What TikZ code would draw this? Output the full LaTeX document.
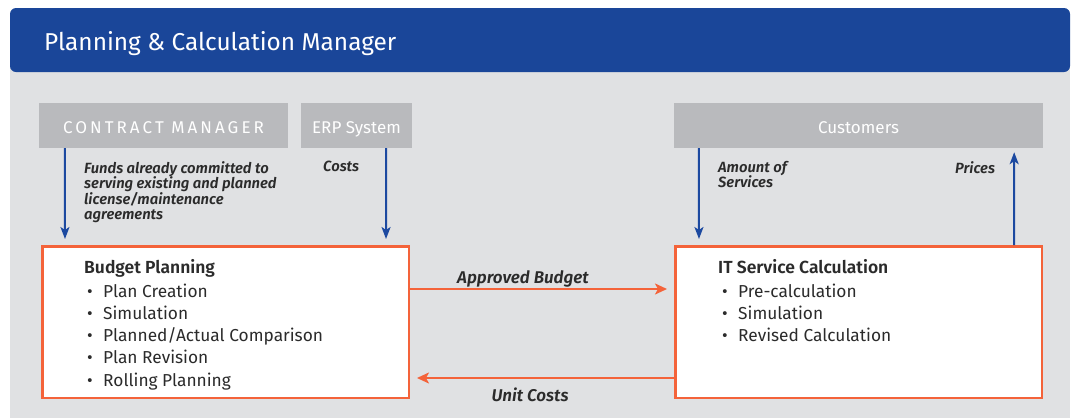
\documentclass[tikz,border=0pt]{standalone}
\usepackage{fontspec}
\setmainfont{Fira Sans}[BoldFont={Fira Sans SemiBold}, BoldItalicFont={Fira Sans SemiBold Italic}]
\usetikzlibrary{arrows.meta,calc}
\definecolor{hblue}{HTML}{1A4699}
\definecolor{ablue}{HTML}{1C49A0}
\definecolor{bggrey}{HTML}{E0E1E3}
\definecolor{boxgrey}{HTML}{B9BABD}
\definecolor{orng}{HTML}{F4633A}
\definecolor{txt}{HTML}{2B2B2B}
\tikzset{
  gbox/.style={fill=boxgrey, inner sep=0pt, minimum height=45pt, text height=15pt, text depth=0pt, text=white, font=\fontsize{17}{20}\selectfont},
  obox/.style={draw=orng, line width=2.5pt, fill=white, minimum width=366.5pt, minimum height=151.5pt, inner sep=0pt},
  barrow/.style={draw=ablue, line width=2pt, -{Stealth[length=12pt,width=9pt,inset=3pt]}},
  oarrow/.style={draw=orng, line width=2pt, -{Stealth[length=12pt,width=11pt,inset=3pt]}},
  lbl/.style={text=txt, font=\fontsize{14.8}{15.5}\selectfont\bfseries\itshape, align=left, inner sep=0pt},
  alb/.style={text=txt, font=\fontsize{17}{20}\selectfont\bfseries\itshape, inner sep=0pt, anchor=base},
  head/.style={text=txt, font=\fontsize{17.5}{20}\selectfont\bfseries, inner sep=0pt, anchor=base west},
  item/.style={text=txt, font=\fontsize{17.3}{20}\selectfont, inner sep=0pt, anchor=base west},
}
\newcommand{\bul}{\makebox[16pt][l]{\textbullet}}
\begin{document}
\begin{tikzpicture}[x=1pt,y=-1pt]
\useasboundingbox (0,0) rectangle (1071,418);
\fill[bggrey] (10,60) rectangle (1070,418);
\fill[hblue, rounded corners=6pt] (10,8) rectangle (1070,72);
\node[anchor=base west, text=white, inner sep=0pt, font=\fontsize{24.4}{26}\selectfont] (title) at (44,50) {Planning \& Calculation Manager};

\node[gbox, minimum width=249pt, font=\fontsize{17}{20}\selectfont] (cm) at (163.5,125.5) {\addfontfeatures{LetterSpace=18}CONTRACT MANAGER};
\node[gbox, minimum width=111pt] (erp) at (356.5,125.5) {ERP System};
\node[gbox, minimum width=369pt] (cust) at (858.5,125.5) {Customers};

\node[obox] (bp) at (225.5,322) {};
\node[obox] (it) at (858.5,322) {};

\draw[barrow, shorten >=6pt] ([xshift=26pt]cm.south west) -- ([xshift=24pt]bp.north west);
\draw[barrow, shorten >=6pt] ([xshift=-26pt]erp.south east) -- ([xshift=-24pt]bp.north east);
\draw[barrow, shorten >=6pt] ([xshift=25pt]cust.south west) -- ([xshift=25pt]it.north west);
\draw[barrow, shorten >=4pt] ([xshift=-29pt]it.north east) -- ([xshift=-29pt]cust.south east);
\draw[oarrow, shorten >=7pt] ([yshift=33pt]bp.east) -- ([yshift=33pt]it.west);
\draw[oarrow, shorten >=7pt] ([yshift=-56pt]it.west) -- ([yshift=-56pt]bp.east);

\node[lbl, anchor=north west] (funds) at (84,161) {Funds already committed to\\serving existing and planned\\license/maintenance\\agreements};
\node[lbl, anchor=north west] (costs) at (323,161) {Costs};
\node[lbl, anchor=north west] (amount) at (718,161) {Amount of\\Services};
\node[lbl, anchor=north west] (prices) at (955,161) {Prices};
\node[alb] (appr) at (523,283) {Approved Budget};
\node[alb] (unit) at (530,401) {Unit Costs};

\node[head] (bph) at (84,273) {Budget Planning};
\node[item] (bp1) at (87,297) {\bul Plan Creation};
\node[item] (bp2) at (87,319) {\bul Simulation};
\node[item] (bp3) at (87,341) {\bul Planned/Actual Comparison};
\node[item] (bp4) at (87,363) {\bul Plan Revision};
\node[item] (bp5) at (87,386) {\bul Rolling Planning};

\node[head] (ith) at (718,273) {IT Service Calculation};
\node[item] (it1) at (722,297) {\bul Pre-calculation};
\node[item] (it2) at (722,319) {\bul Simulation};
\node[item] (it3) at (722,341) {\bul Revised Calculation};
\end{tikzpicture}
\end{document}
